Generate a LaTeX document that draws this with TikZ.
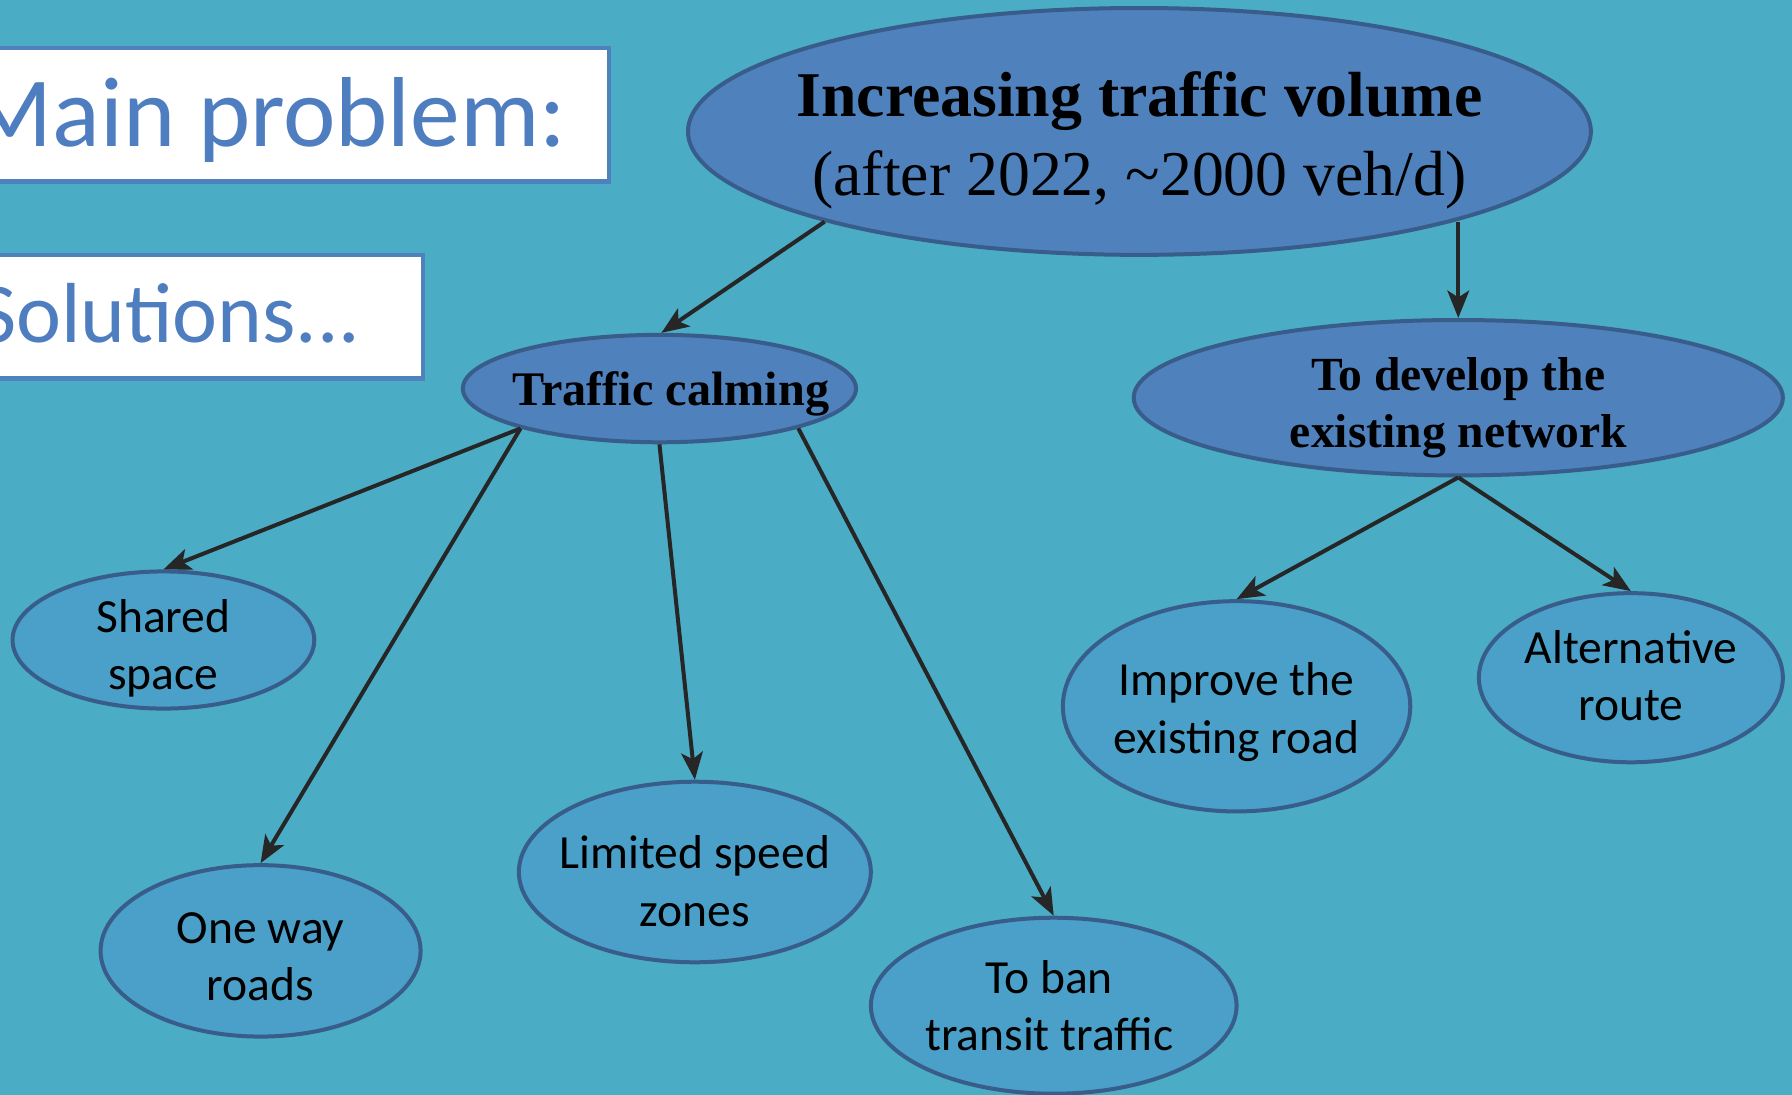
\documentclass[tikz,border=0pt]{standalone}
\usepackage{fontspec}
\setmainfont{Liberation Serif}
\newfontfamily\calibri{Carlito}
\usetikzlibrary{shapes.geometric,arrows.meta}
\definecolor{bg}{RGB}{75,172,198}
\definecolor{topfill}{RGB}{79,129,189}
\definecolor{leaffill}{RGB}{74,160,200}
\definecolor{edgec}{RGB}{56,93,138}
\definecolor{arrowc}{RGB}{38,38,38}
\definecolor{titleblue}{RGB}{78,126,192}
\definecolor{boxedge}{RGB}{79,129,189}
\tikzset{
  bubble/.style={ellipse, draw=edgec, line width=1.75pt, inner sep=0pt},
  topbubble/.style={bubble, fill=topfill},
  leafbubble/.style={bubble, fill=leaffill},
  bubbletext/.style={inner sep=0pt, align=center},
  leaftext/.style={bubbletext, font=\calibri\fontsize{20.8}{25}\selectfont},
  boldtext/.style={bubbletext, font=\fontsize{20.8}{25}\selectfont\bfseries},
  arr/.style={draw=arrowc, line width=1.75pt, -{Stealth[length=12pt,width=9.5pt,inset=3pt]}},
  titlebox/.style={draw=boxedge, fill=white, line width=2pt, inner sep=0pt, anchor=north west},
  titletext/.style={font=\calibri\fontsize{43.5}{50}\selectfont, text=titleblue, inner sep=0pt}
}
\begin{document}
\begin{tikzpicture}[x=0.5pt,y=-0.5pt]
\fill[bg] (0,0) rectangle (1568,958);
\useasboundingbox (0,0) rectangle (1568,958);
\begin{scope}
\clip (0,0) rectangle (1568,958);
% title boxes
\node[titlebox, minimum width=270.5pt, minimum height=58.5pt] (mainbox) at (-10,40) {};
\node[titletext, anchor=base east] (maintext) at (496,128) {Main problem:};
\node[titlebox, minimum width=189pt, minimum height=54pt] (solbox) at (-10,221) {};
\node[titletext, font=\calibri\fontsize{37.3}{44}\selectfont, anchor=base east] (soltext) at (316,300) {Solutions...};

% main nodes
\node[topbubble, minimum width=395pt, minimum height=108pt] (top) at (997,115) {};
\node[bubbletext, font=\fontsize{27.9}{34.5}\selectfont] (toptext) at ([yshift=-4pt]top.center)
  {{\bfseries Increasing traffic volume}\\(after 2022, \textasciitilde2000 veh/d)};
\node[topbubble, minimum width=172pt, minimum height=47pt] (tc) at (577,340) {};
\node[boldtext, font=\fontsize{21.1}{25}\selectfont\bfseries] (tctext) at ([xshift=5pt,yshift=-2.5pt]tc.center) {Traffic calming};
\node[topbubble, minimum width=284pt, minimum height=68pt] (dev) at (1276,348) {};
\node[boldtext] (devtext) at ([yshift=-4.5pt]dev.center) {To develop the\\existing network};

% leaves
\node[leafbubble, minimum width=132pt, minimum height=60pt] (shared) at (143,560) {};
\node[leaftext] (sharedtext) at ([yshift=-3.5pt]shared.center) {Shared\\space};
\node[leafbubble, minimum width=140pt, minimum height=75pt] (oneway) at (228,832) {};
\node[leaftext] (onewaytext) at ([yshift=-2.5pt]oneway.center) {One way\\roads};
\node[leafbubble, minimum width=154pt, minimum height=79pt] (limited) at (608,763) {};
\node[leaftext] (limitedtext) at ([yshift=-4pt]limited.center) {Limited speed\\zones};
\node[leafbubble, minimum width=160pt, minimum height=77pt] (ban) at (922,880) {};
\node[leaftext] (bantext) at ([xshift=-2pt,yshift=0pt]ban.center) {To ban\\transit traffic};
\node[leafbubble, minimum width=152pt, minimum height=92pt] (improve) at (1082,618) {};
\node[leaftext] (improvetext) at ([yshift=-2.5pt]improve.center) {Improve the\\existing road};
\node[leafbubble, minimum width=133pt, minimum height=74pt] (alt) at (1427,593) {};
\node[leaftext] (alttext) at ([yshift=1pt]alt.center) {Alternative\\route};

% connectors
\draw[arr] (top.196) -- (tc.88);
\draw[arr] (dev.north |- top.344) -- (dev.north);
\draw[arr] (tc.196) -- (shared.north);
\draw[arr] (tc.196) -- (oneway.north);
\draw[arr] (tc.south) -- (limited.north);
\draw[arr] (tc.344) -- (ban.north);
\draw[arr] (dev.south) -- (improve.north);
\draw[arr] (dev.south) -- (alt.north);
\end{scope}
\end{tikzpicture}
\end{document}
